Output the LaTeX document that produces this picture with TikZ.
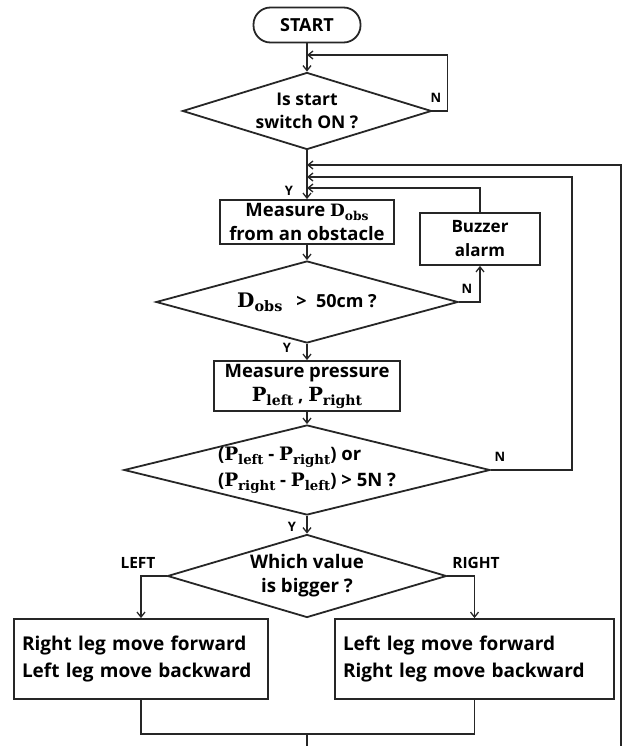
\documentclass[tikz,border=0pt]{standalone}
\usepackage{fontspec}
\usepackage{tikz}
\newfontfamily\flowsans{Open Sans}
\newfontfamily\flowserif{DejaVu Serif}
\usetikzlibrary{shapes.geometric,arrows.meta}
\newcommand{\vsub}[2]{{\flowserif\bfseries #1\raisebox{-0.4ex}{\scalebox{0.72}{#2}}}}

\begin{document}
\begin{tikzpicture}[x=1pt,y=-1pt,
   box/.style={draw=black!85,line width=1.8pt,inner sep=0pt,align=center,font=\flowsans\bfseries},
   decision/.style={draw=black!85,diamond,line width=1.8pt,inner sep=0pt},
   dtext/.style={align=center,font=\flowsans\bfseries},
   line/.style={draw=black!85,line width=1.3pt},
   arr/.style={line,-{Straight Barb[length=5pt,width=8pt]}},
   lbl/.style={font=\flowsans\bfseries\fontsize{13}{15}\selectfont}]
   \useasboundingbox (0,0) rectangle (622,746);
   % shapes of the main column
   \node [box,rounded corners=17pt,minimum width=107pt,minimum height=35pt,font=\flowsans\bfseries\fontsize{18}{20}\selectfont] (start) at (307,25) {START};
   \node [decision,minimum width=249pt,minimum height=77pt,label={[dtext,font=\flowsans\bfseries\fontsize{17.5}{22.7}\selectfont]center:Is start\\switch ON ?}] (switch) at (307,111) {};
   \node [box,minimum width=174pt,minimum height=44pt,font=\flowsans\bfseries\fontsize{18.5}{24}\selectfont] (measure) at (307,222) {Measure {\fontsize{17}{20}\selectfont\vsub{D}{obs}}\\from an obstacle};
   \node [box,minimum width=120pt,minimum height=52pt,font=\flowsans\bfseries\fontsize{17}{24}\selectfont] (buzzer) at (480,239) {Buzzer\\alarm};
   \node [decision,minimum width=302pt,minimum height=82pt,label={[dtext,font=\flowsans\bfseries\fontsize{18}{20}\selectfont]center:{\fontsize{20}{20}\selectfont\vsub{D}{obs}}\ \ \ {>}\ \ 50cm ?}] (dist) at (307,302) {};
   \node [box,minimum width=186pt,minimum height=50pt,font=\flowsans\bfseries\fontsize{18.5}{24}\selectfont] (pressure) at (307,386) {Measure pressure\\{\fontsize{19.5}{20}\selectfont\vsub{P}{left}}\ ,\ {\fontsize{19.5}{20}\selectfont\vsub{P}{right}}};
   \node [decision,minimum width=366pt,minimum height=90pt,label={[dtext,align=left,font=\flowsans\bfseries\fontsize{18.5}{26}\selectfont]center:({\fontsize{18.5}{20}\selectfont\vsub{P}{left}} - {\fontsize{18.5}{20}\selectfont\vsub{P}{right}}) or\\({\fontsize{18.5}{20}\selectfont\vsub{P}{right}} - {\fontsize{18.5}{20}\selectfont\vsub{P}{left}}) {>} 5N ?}] (diff) at (307,470) {};
   \node [decision,minimum width=279pt,minimum height=83pt,label={[dtext,font=\flowsans\bfseries\fontsize{18.7}{24}\selectfont]center:Which value\\is bigger ?}] (bigger) at (307,576) {};
   \node [box,minimum width=254pt,minimum height=80pt,text width=238pt,align=left,font=\flowsans\bfseries\fontsize{19}{27}\selectfont] (leftbox) at (141,659) {Right leg move forward\\Left leg move backward};
   \node [box,minimum width=279pt,minimum height=80pt,text width=263pt,align=left,font=\flowsans\bfseries\fontsize{19}{27}\selectfont] (rightbox) at (474.5,659) {Left leg move forward\\Right leg move backward};
   % join points
   \coordinate (j0) at (307,55);
   \coordinate (j1) at (307,165);
   \coordinate (j2) at (307,177);
   \coordinate (j3) at (307,188);
   \coordinate (merge) at (307,733);
   \coordinate (bottom) at (307,746);
   \coordinate (loop) at (621,746);
   % connectors
   \draw [arr] (start) -- (switch);
   \draw [arr] (switch.east) -- ++(15,0) |- (j0); % N loop
   \draw [arr] (switch) -- (measure);
   \draw [arr] (measure) -- (dist);
   \draw [arr] (dist.east) -| (buzzer);
   \draw [arr] (buzzer) |- (j3);
   \draw [arr] (dist) -- (pressure);
   \draw [arr] (pressure) -- (diff);
   \draw [arr] (diff.east) -- ++(81,0) |- (j2);
   \draw [arr] (diff) -- (bigger);
   \draw [arr] (bigger.west) -| (leftbox);
   \draw [arr] (bigger.east) -| (rightbox);
   \draw [line] (leftbox.south) -- ++(0,34) -| (rightbox.south);
   \draw [line] (merge) -- (bottom);
   \draw [arr] (loop) |- (j1); % back to the top
   % Y / N labels
   \node [lbl] (n1) at (436,98) {N};
   \node [lbl] (y1) at (289,191) {Y};
   \node [lbl] (n2) at (467,289) {N};
   \node [lbl] (y2) at (287,348) {Y};
   \node [lbl] (n3) at (500,457) {N};
   \node [lbl] (y3) at (292,527) {Y};
   \node [lbl,font=\flowsans\bfseries\fontsize{15.5}{16}\selectfont] (lefttag) at (138,563) {LEFT};
   \node [lbl,font=\flowsans\bfseries\fontsize{15.5}{16}\selectfont] (righttag) at (476,563) {RIGHT};
\end{tikzpicture}
\end{document}
